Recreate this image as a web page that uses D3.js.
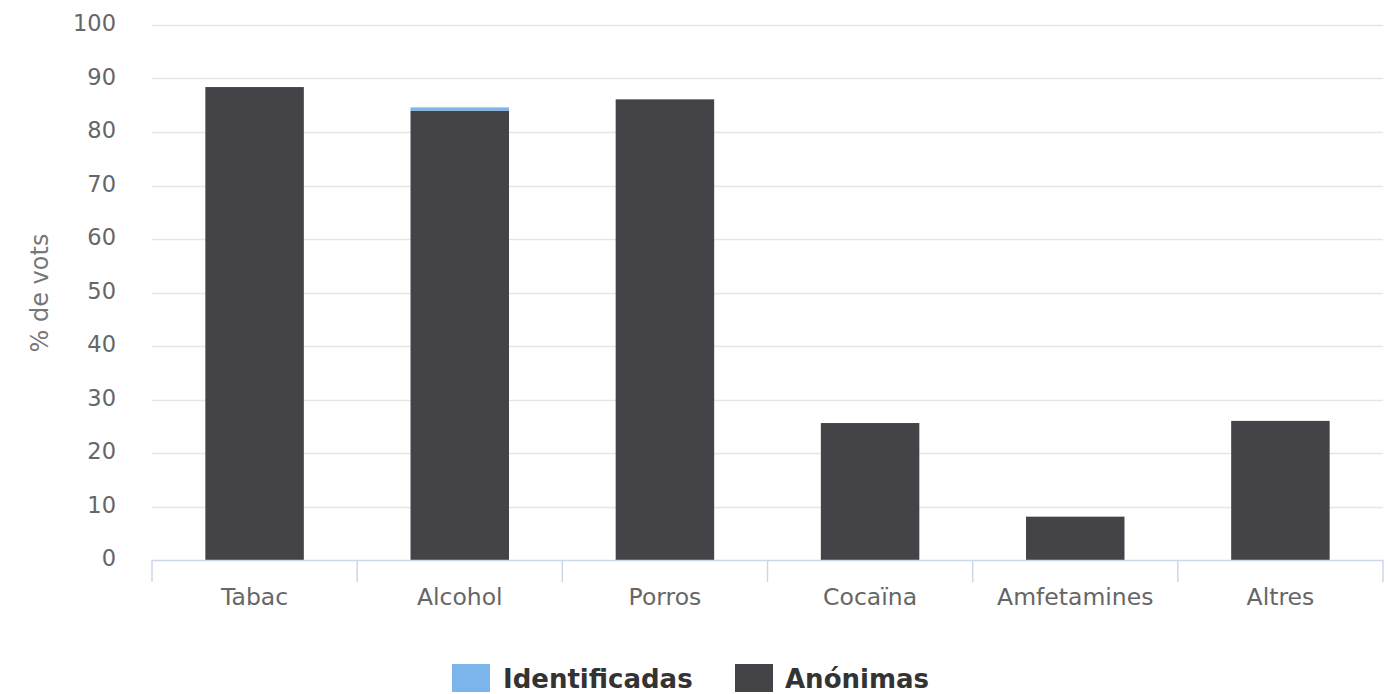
<!DOCTYPE html>
<html><head><meta charset="utf-8">
<script src="https://cdn.jsdelivr.net/npm/d3@7"></script>
<style>body{margin:0;background:#fff}svg{display:block}text{font-family:"DejaVu Sans",sans-serif}</style>
</head><body>
<script>
const categories = ["Tabac","Alcohol","Porros","Cocaïna","Amfetamines","Altres"];
const identificadas = [0, 0.6, 0, 0, 0, 0];
const anonimas = [88.4, 84.0, 86.1, 25.6, 8.1, 26.0];
const yTicks = [0,10,20,30,40,50,60,70,80,90,100];
const seriesNames = ["Identificadas","Anónimas"];
const colors = ["#7cb5ec","#434348"];

(function(){
const W=1388,H=694;
const svg=d3.select("body").append("svg").attr("width",W).attr("height",H);
const pl=152,pr=1383,pt=25,pb=560;
const x=d3.scaleBand().domain(categories).range([pl,pr]).paddingInner(0.52).paddingOuter(0.26);
const xb=d3.scaleBand().domain(categories).range([pl,pr]);
const y=d3.scaleLinear().domain([0,100]).range([pb,pt]);

svg.append("g").selectAll("line").data(yTicks.filter(d=>d>0)).join("line")
 .attr("x1",pl).attr("x2",pr).attr("y1",d=>Math.round(y(d))+0.5).attr("y2",d=>Math.round(y(d))+0.5)
 .attr("stroke","#e6e6e6").attr("stroke-width",1.5);
svg.append("g").selectAll("text").data(yTicks).join("text")
 .attr("x",116).attr("y",d=>y(d)+6).attr("text-anchor","end")
 .attr("font-size",22.5).attr("fill","#666").text(d=>d);
svg.append("text").attr("transform","translate(48,293) rotate(-90)").attr("text-anchor","middle")
 .attr("font-size",24).attr("fill","#777").text("% de vots");

const data=categories.map((c,i)=>({c,a:anonimas[i],b:identificadas[i]}));
const stack=d3.stack().keys(["a","b"])(data);
const col={a:colors[1],b:colors[0]};
svg.append("g").selectAll("g").data(stack).join("g")
 .attr("fill",d=>col[d.key])
 .selectAll("rect").data(d=>d).join("rect")
 .attr("x",d=>x(d.data.c)).attr("width",x.bandwidth())
 .attr("y",d=>y(d[1])).attr("height",d=>Math.max(0,y(d[0])-y(d[1])));

svg.append("line").attr("x1",pl).attr("x2",pr).attr("y1",pb+0.5).attr("y2",pb+0.5)
 .attr("stroke","#ccd6eb").attr("stroke-width",1.5);
const bounds=categories.map(c=>xb(c)).concat([pr]);
svg.append("g").selectAll("line").data(bounds).join("line")
 .attr("x1",d=>d).attr("x2",d=>d).attr("y1",pb).attr("y2",pb+22)
 .attr("stroke","#ccd6eb").attr("stroke-width",1.5);
svg.append("g").selectAll("text").data(categories).join("text")
 .attr("x",c=>xb(c)+xb.bandwidth()/2).attr("y",605).attr("text-anchor","middle")
 .attr("font-size",23.5).attr("fill","#666").text(c=>c);

const leg=[{n:seriesNames[0],c:colors[0],sx:452,tx:503},{n:seriesNames[1],c:colors[1],sx:735,tx:785}];
const lg=svg.append("g");
lg.selectAll("rect").data(leg).join("rect").attr("x",d=>d.sx).attr("y",664).attr("width",38).attr("height",28).attr("fill",d=>d.c);
lg.selectAll("text").data(leg).join("text").attr("x",d=>d.tx).attr("y",688)
 .attr("font-size",26).attr("font-weight","bold").attr("fill","#333").text(d=>d.n);
})();
</script>
</body></html>
